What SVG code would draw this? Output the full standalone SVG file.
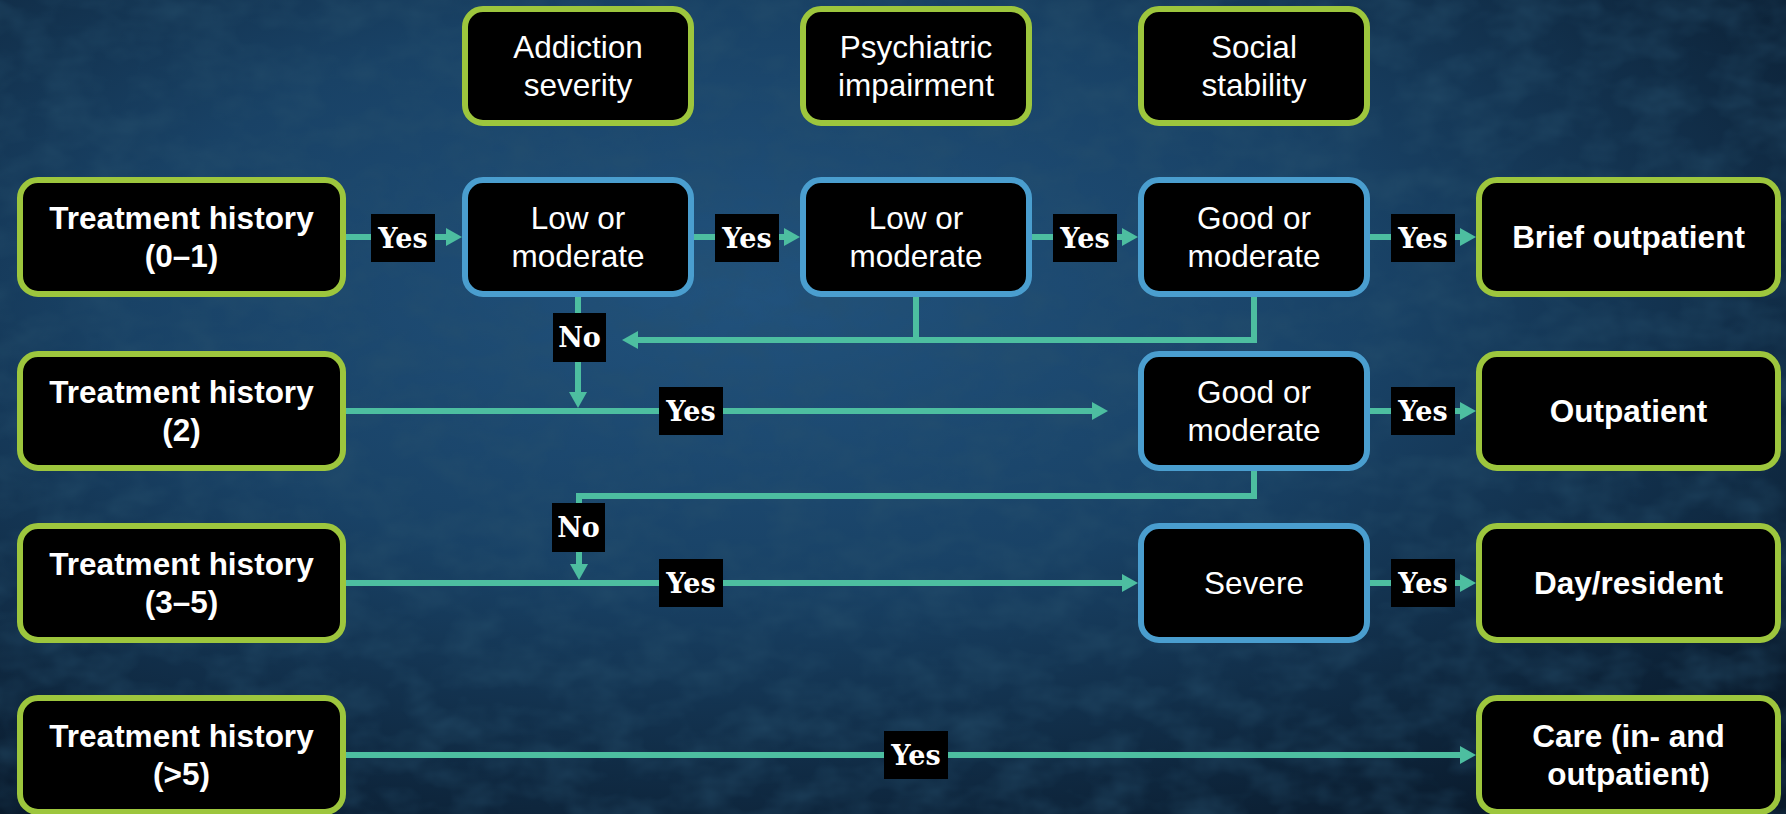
<svg xmlns="http://www.w3.org/2000/svg" width="1786" height="814" viewBox="0 0 1786 814">
  <defs>
    <radialGradient id="bg" cx="42%" cy="36%" r="78%">
      <stop offset="0" stop-color="#21527d"/>
      <stop offset="0.45" stop-color="#194266"/>
      <stop offset="1" stop-color="#09192a"/>
    </radialGradient>
    <filter id="grain" x="0" y="0" width="100%" height="100%">
      <feTurbulence type="fractalNoise" baseFrequency="0.022 0.035" numOctaves="3" seed="7"/>
      <feColorMatrix type="matrix" values="0 0 0 0 0.02  0 0 0 0 0.08  0 0 0 0 0.15  0 0 0 -1.6 1.05"/>
    </filter>
    <marker id="head" markerUnits="userSpaceOnUse" markerWidth="16" markerHeight="18" refX="6" refY="9" orient="auto">
      <path d="M0,0 L16,9 L0,18 Z" fill="#4dbea0"/>
    </marker>
    <style>
      .box rect { fill: #000; stroke-width: 6; }
      .g rect { stroke: #9dc63d; }
      .b rect { stroke: #4a9ecf; }
      .box text { fill: #fff; font-family: "Liberation Sans", Arial, sans-serif; font-size: 31.5px; text-anchor: middle; }
      .bold text { font-weight: bold; }
      .wire { fill: none; stroke: #4dbea0; stroke-width: 6; stroke-linejoin: miter; }
      .tag rect { fill: #000; }
      .tag text { fill: #fff; font-family: "DejaVu Serif", "Liberation Serif", serif; font-weight: bold; font-size: 27px; text-anchor: middle; }
    </style>
  </defs>

  <!-- background -->
  <rect width="1786" height="814" fill="url(#bg)"/>
  <rect width="1786" height="814" filter="url(#grain)" opacity="0.55"/>

  <!-- connectors -->
  <g id="connectors">
    <path class="wire" d="M346,237 H452" marker-end="url(#head)"/>
    <path class="wire" d="M694,237 H790" marker-end="url(#head)"/>
    <path class="wire" d="M1032,237 H1128" marker-end="url(#head)"/>
    <path class="wire" d="M1370,237 H1466" marker-end="url(#head)"/>

    <path class="wire" d="M346,411 H1098" marker-end="url(#head)"/>
    <path class="wire" d="M1370,411 H1466" marker-end="url(#head)"/>

    <path class="wire" d="M346,583 H1128" marker-end="url(#head)"/>
    <path class="wire" d="M1370,583 H1466" marker-end="url(#head)"/>

    <path class="wire" d="M346,755 H1466" marker-end="url(#head)"/>

    <path class="wire" d="M578,297 V398" marker-end="url(#head)"/>
    <path class="wire" d="M1254,297 V340 H632" marker-end="url(#head)"/>
    <path class="wire" d="M916,297 V340"/>
    <path class="wire" d="M1254,471 V496 H579 V570" marker-end="url(#head)"/>

    <g class="tag">
      <rect x="371" y="214" width="64" height="48"/><text x="403" y="247.5">Yes</text>
      <rect x="715" y="214" width="64" height="48"/><text x="747" y="247.5">Yes</text>
      <rect x="1053" y="214" width="64" height="48"/><text x="1085" y="247.5">Yes</text>
      <rect x="1391" y="214" width="64" height="48"/><text x="1423" y="247.5">Yes</text>

      <rect x="659" y="387" width="64" height="48"/><text x="691" y="420.5">Yes</text>
      <rect x="1391" y="387" width="64" height="48"/><text x="1423" y="420.5">Yes</text>

      <rect x="659" y="559" width="64" height="48"/><text x="691" y="592.5">Yes</text>
      <rect x="1391" y="559" width="64" height="48"/><text x="1423" y="592.5">Yes</text>

      <rect x="884" y="731" width="64" height="48"/><text x="916" y="764.5">Yes</text>

      <rect x="553" y="313" width="53" height="49"/><text x="579.5" y="347">No</text>
      <rect x="552" y="503" width="53" height="49"/><text x="578.5" y="537">No</text>
    </g>
  </g>

  <!-- column headers -->
  <g id="hdr-addiction" class="box g">
    <rect x="465" y="9" width="226" height="114" rx="18"/>
    <text x="578" y="58">Addiction</text><text x="578" y="96">severity</text>
  </g>
  <g id="hdr-psychiatric" class="box g">
    <rect x="803" y="9" width="226" height="114" rx="18"/>
    <text x="916" y="58">Psychiatric</text><text x="916" y="96">impairment</text>
  </g>
  <g id="hdr-social" class="box g">
    <rect x="1141" y="9" width="226" height="114" rx="18"/>
    <text x="1254" y="58">Social</text><text x="1254" y="96">stability</text>
  </g>

  <!-- row 1 -->
  <g id="th-0-1" class="box g bold">
    <rect x="20" y="180" width="323" height="114" rx="18"/>
    <text x="181.5" y="229">Treatment history</text><text x="181.5" y="267">(0–1)</text>
  </g>
  <g id="addiction-low" class="box b">
    <rect x="465" y="180" width="226" height="114" rx="18"/>
    <text x="578" y="229">Low or</text><text x="578" y="267">moderate</text>
  </g>
  <g id="psych-low" class="box b">
    <rect x="803" y="180" width="226" height="114" rx="18"/>
    <text x="916" y="229">Low or</text><text x="916" y="267">moderate</text>
  </g>
  <g id="social-good-1" class="box b">
    <rect x="1141" y="180" width="226" height="114" rx="18"/>
    <text x="1254" y="229">Good or</text><text x="1254" y="267">moderate</text>
  </g>
  <g id="brief-outpatient" class="box g bold">
    <rect x="1479" y="180" width="299" height="114" rx="18"/>
    <text x="1628.5" y="248">Brief outpatient</text>
  </g>

  <!-- row 2 -->
  <g id="th-2" class="box g bold">
    <rect x="20" y="354" width="323" height="114" rx="18"/>
    <text x="181.5" y="403">Treatment history</text><text x="181.5" y="441">(2)</text>
  </g>
  <g id="social-good-2" class="box b">
    <rect x="1141" y="354" width="226" height="114" rx="18"/>
    <text x="1254" y="403">Good or</text><text x="1254" y="441">moderate</text>
  </g>
  <g id="outpatient" class="box g bold">
    <rect x="1479" y="354" width="299" height="114" rx="18"/>
    <text x="1628.5" y="422">Outpatient</text>
  </g>

  <!-- row 3 -->
  <g id="th-3-5" class="box g bold">
    <rect x="20" y="526" width="323" height="114" rx="18"/>
    <text x="181.5" y="575">Treatment history</text><text x="181.5" y="613">(3–5)</text>
  </g>
  <g id="severe" class="box b">
    <rect x="1141" y="526" width="226" height="114" rx="18"/>
    <text x="1254" y="594">Severe</text>
  </g>
  <g id="day-resident" class="box g bold">
    <rect x="1479" y="526" width="299" height="114" rx="18"/>
    <text x="1628.5" y="594">Day/resident</text>
  </g>

  <!-- row 4 -->
  <g id="th-gt-5" class="box g bold">
    <rect x="20" y="698" width="323" height="114" rx="18"/>
    <text x="181.5" y="747">Treatment history</text><text x="181.5" y="785">(&gt;5)</text>
  </g>
  <g id="care" class="box g bold">
    <rect x="1479" y="698" width="299" height="114" rx="18"/>
    <text x="1628.5" y="747">Care (in- and</text><text x="1628.5" y="785">outpatient)</text>
  </g>
</svg>
